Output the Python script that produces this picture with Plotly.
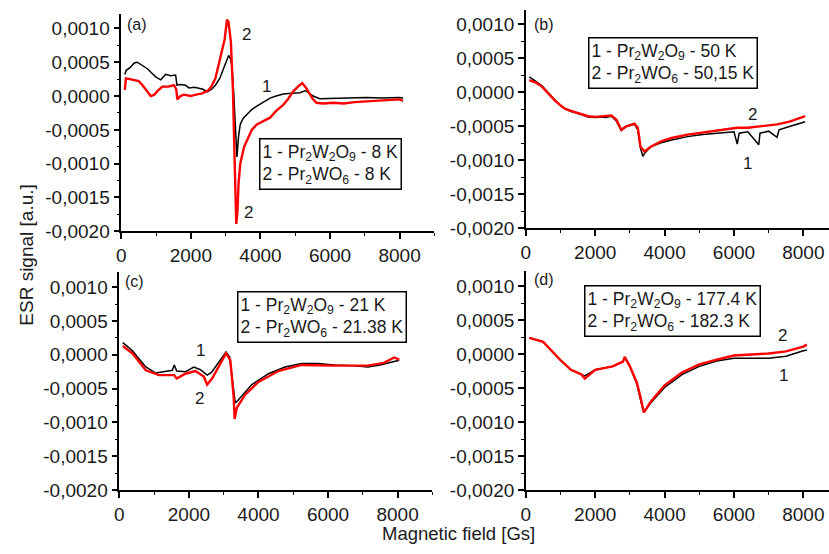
import plotly.graph_objects as go

W, H = 829, 554

# ---------------- data ----------------
a_black_x = [100, 140, 250, 371, 460, 610, 760, 895, 1000, 1133, 1276, 1420, 1562, 1600, 1700, 1848, 1943, 2100, 2229, 2350, 2467, 2600, 2705, 2830, 2943, 3020, 3086, 3140, 3181, 3229, 3280, 3324, 3370, 3419, 3500, 3610, 3750, 3895, 4100, 4276, 4450, 4657, 4900, 5133, 5300, 5514, 5705, 5900, 6181, 6500, 7038, 7500, 7990, 8100]
a_black_y = [0.00032, 0.00038, 0.00042, 0.00049, 0.0005, 0.00045, 0.0004, 0.00033, 0.00028, 0.00024, 0.00032, 0.0003, 0.00031, 0.00016, 0.00017, 0.00016, 0.00012, 0.00013, 0.00012, 0.0001, 0.00006, 0.0001, 0.00016, 0.00026, 0.00041, 0.0005, 0.0006, 0.00055, 0.00045, 0.00007, -0.0005, -0.0009, -0.0006, -0.00042, -0.00033, -0.00027, -0.0002, -0.00015, -0.00008, -0.00003, 0.0, 0.00003, 0.00004, 0.00005, 0.00008, 0.0, -0.00004, -0.00004, -0.00004, -0.00003, -0.00002, -0.00003, -0.00002, -0.00003]
a_red_x = [100, 133, 250, 371, 500, 610, 750, 848, 950, 1050, 1181, 1350, 1514, 1580, 1610, 1700, 1800, 1990, 2150, 2324, 2514, 2600, 2705, 2848, 2971, 3038, 3080, 3150, 3210, 3260, 3305, 3340, 3371, 3420, 3467, 3530, 3610, 3750, 3895, 4050, 4276, 4450, 4657, 4800, 4943, 5100, 5200, 5300, 5371, 5500, 5610, 5800, 6086, 6400, 6700, 7038, 7500, 7990, 8100]
a_red_y = [0.00009, 0.00026, 0.00025, 0.00024, 0.00022, 0.00016, 0.00006, 0.0, 0.00002, 0.00008, 0.00014, 0.00014, 0.00016, 0.0001, -0.00005, 0.0, 0.00002, 0.0, 0.00002, 0.00004, 0.00009, 0.00015, 0.00026, 0.00055, 0.00084, 0.00113, 0.0011, 0.0008, 0.00007, -0.001, -0.00189, -0.0017, -0.00129, -0.001, -0.0009, -0.00075, -0.00066, -0.0005, -0.00042, -0.00038, -0.00032, -0.00022, -0.00013, -0.00004, 0.00007, 0.00015, 0.00019, 0.00013, 0.00007, -0.00004, -0.0001, -0.00011, -0.0001, -0.00011, -0.00009, -0.00008, -0.00007, -0.00005, -0.00007]

b_black_x = [100, 124, 300, 458, 650, 840, 1000, 1127, 1300, 1509, 1650, 1796, 2000, 2178, 2300, 2464, 2607, 2751, 2894, 3000, 3133, 3228, 3305, 3372, 3419, 3600, 3897, 4200, 4661, 5100, 5616, 6000, 6094, 6150, 6400, 6714, 6750, 7000, 7240, 7300, 7600, 8052]
b_black_y = [0.00023, 0.00022, 0.00016, 0.0001, -0.00001, -0.00012, -0.0002, -0.00024, -0.00028, -0.00031, -0.00034, -0.00036, -0.00037, -0.00036, -0.00037, -0.00035, -0.00042, -0.00056, -0.0005, -0.00049, -0.00047, -0.00055, -0.00082, -0.00094, -0.0009, -0.0008, -0.00074, -0.0007, -0.00065, -0.00062, -0.0006, -0.00058, -0.00076, -0.0006, -0.00058, -0.00077, -0.0006, -0.00057, -0.00066, -0.00055, -0.0005, -0.00043]
b_red_x = [100, 300, 458, 650, 840, 1000, 1127, 1300, 1509, 1796, 2000, 2178, 2464, 2607, 2751, 2894, 3133, 3228, 3305, 3419, 3600, 3897, 4200, 4661, 5100, 5616, 6094, 6400, 6714, 7000, 7240, 7600, 8052]
b_red_y = [0.00018, 0.00014, 0.00009, -0.00002, -0.00012, -0.00019, -0.00024, -0.00027, -0.0003, -0.00035, -0.00036, -0.00035, -0.00034, -0.0004, -0.00055, -0.0005, -0.00046, -0.00052, -0.0008, -0.00087, -0.0008, -0.00072, -0.00067, -0.00062, -0.00059, -0.00055, -0.00052, -0.00052, -0.0005, -0.00049, -0.00047, -0.00043, -0.00035]

c_black_x = [100, 381, 600, 762, 1048, 1300, 1524, 1580, 1650, 1905, 2143, 2333, 2524, 2650, 2762, 2952, 3067, 3171, 3257, 3333, 3400, 3524, 3810, 4286, 4762, 5238, 5700, 6190, 6700, 7143, 7500, 7810, 8048]
c_black_y = [0.00018, 0.00006, -0.00008, -0.00018, -0.00027, -0.00025, -0.00023, -0.00015, -0.00024, -0.00025, -0.00018, -0.00022, -0.0003, -0.00026, -0.00018, -0.00003, 0.00004, -0.00003, -0.00037, -0.00071, -0.00068, -0.00061, -0.00044, -0.00028, -0.00018, -0.00013, -0.00013, -0.00015, -0.00016, -0.00018, -0.00015, -0.00011, -0.00008]
c_red_x = [100, 381, 762, 1143, 1571, 1650, 1900, 2190, 2429, 2524, 2667, 2857, 3067, 3190, 3286, 3314, 3381, 3619, 4000, 4571, 5238, 6190, 7143, 7600, 7905, 8048]
c_red_y = [0.00013, 0.00002, -0.00023, -0.0003, -0.0003, -0.00035, -0.00028, -0.00024, -0.00032, -0.00044, -0.00035, -0.00018, 0.00002, -0.00008, -0.00061, -0.00095, -0.00078, -0.00059, -0.0004, -0.00024, -0.00015, -0.00016, -0.00016, -0.00012, -0.00004, -0.00007]

d_x = [100, 500, 1000, 1300, 1600, 1700, 2000, 2500, 2800, 2850, 3000, 3200, 3300, 3400, 3600, 4000, 4500, 5000, 5500, 6000, 7000, 7500, 8000, 8100]
d_black_y = [0.00024, 0.00018, -0.00009, -0.00023, -0.0003, -0.00032, -0.00023, -0.00018, -0.00011, -0.00005, -0.00018, -0.00044, -0.00066, -0.00086, -0.00072, -0.00049, -0.0003, -0.00018, -0.0001, -0.00006, -0.00006, -0.00003, 0.00005, 0.00006]
d_red_y = [0.00024, 0.00018, -0.00009, -0.00023, -0.0003, -0.00036, -0.00023, -0.00018, -0.00011, -0.00004, -0.00018, -0.00042, -0.00062, -0.00086, -0.0007, -0.00046, -0.00027, -0.00015, -0.00008, -0.00002, 0.00001, 0.00004, 0.00011, 0.00014]

y_tickvals = [-0.002, -0.0015, -0.001, -0.0005, 0.0, 0.0005, 0.001]
y_ticktext = ["-0,0020", "-0,0015", "-0,0010", "-0,0005", "0,0000", "0,0005", "0,0010"]
x_tickvals = [0, 2000, 4000, 6000, 8000]
x_ticktext = ["0", "2000", "4000", "6000", "8000"]

legend_texts = [
    "1 - Pr<sub>2</sub>W<sub>2</sub>O<sub>9</sub> - 8 K<br>2 - Pr<sub>2</sub>WO<sub>6</sub> - 8 K",
    "1 - Pr<sub>2</sub>W<sub>2</sub>O<sub>9</sub> - 50 K<br>2 - Pr<sub>2</sub>WO<sub>6</sub> - 50,15 K",
    "1 - Pr<sub>2</sub>W<sub>2</sub>O<sub>9</sub> - 21 K<br>2 - Pr<sub>2</sub>WO<sub>6</sub> - 21.38 K",
    "1 - Pr<sub>2</sub>W<sub>2</sub>O<sub>9</sub> - 177.4 K<br>2 - Pr<sub>2</sub>WO<sub>6</sub> - 182.3 K",
]
panel_letters = ["(a)", "(b)", "(c)", "(d)"]

# ---------------- figure ----------------
FONT = "Liberation Sans, Arial, sans-serif"
fig = go.Figure()

series = [
    (a_black_x, a_black_y, a_red_x, a_red_y),
    (b_black_x, b_black_y, b_red_x, b_red_y),
    (c_black_x, c_black_y, c_red_x, c_red_y),
    (d_x, d_black_y, d_x, d_red_y),
]
for i, (bx, by, rx, ry) in enumerate(series):
    sfx = "" if i == 0 else str(i + 1)
    fig.add_trace(go.Scatter(x=bx, y=by, mode="lines", line=dict(color="black", width=1.5),
                             xaxis="x" + sfx, yaxis="y" + sfx, showlegend=False))
    fig.add_trace(go.Scatter(x=rx, y=ry, mode="lines", line=dict(color="#ff0000", width=2.4),
                             xaxis="x" + sfx, yaxis="y" + sfx, showlegend=False))

def px2x(p):
    return p / W

def px2y(p):
    return 1 - p / H

# pixel geometry of each panel: (x_left, x_right, y_bottom, y_top, xmax)
geo = [
    (117, 432, 236, 13.8, 9000),
    (524, 829, 233, 9.7, 8739),
    (115, 430, 500, 277.8, 9000),
    (524, 829, 500, 276.7, 8739),
]
tickfont = dict(family=FONT, size=19, color="#1a1a1a")
for i, (xl, xr, yb, yt, xmax) in enumerate(geo):
    sfx = "" if i == 0 else str(i + 1)
    xa = dict(domain=[px2x(xl), px2x(xr)], range=[0, xmax], anchor="y" + sfx,
              showline=True, linecolor="black", linewidth=1.5, showgrid=False, zeroline=False,
              ticks="outside", ticklen=6, tickwidth=1.5, tickcolor="black",
              tickmode="array", tickvals=x_tickvals, ticktext=x_ticktext, tickfont=tickfont,
              minor=dict(ticks="outside", ticklen=3, tickwidth=1.2, tickcolor="black",
                         tickmode="linear", tick0=0, dtick=1000, showgrid=False))
    ya = dict(domain=[px2y(yb), px2y(yt)], range=[-0.002, 0.00122], anchor="x" + sfx,
              showline=True, linecolor="black", linewidth=1.5, showgrid=False, zeroline=False,
              ticks="outside", ticklen=6, tickwidth=1.5, tickcolor="black",
              tickmode="array", tickvals=y_tickvals, ticktext=y_ticktext, tickfont=tickfont,
              minor=dict(ticks="outside", ticklen=3, tickwidth=1.2, tickcolor="black",
                         tickmode="linear", tick0=0, dtick=0.00025, showgrid=False))
    fig.layout["xaxis" + sfx] = xa
    fig.layout["yaxis" + sfx] = ya

def text_ann(t, x, y, size, **kw):
    d = dict(text=t, x=px2x(x), y=px2y(y), xref="paper", yref="paper", showarrow=False,
             xanchor="center", yanchor="middle",
             font=dict(family=FONT, size=size, color="#1a1a1a"))
    d.update(kw)
    return d

ann = []
# panel letters
letter_pos = [(133, 25), (542, 25), (130, 287), (542, 285)]
for t, (x, y) in zip(panel_letters, letter_pos):
    ann.append(text_ann(t, x, y, 16))
# legend boxes
box_pos = [(327, 167.5), (672, 64), (318.5, 323.5), (672, 317.5)]
for t, (x, y) in zip(legend_texts, box_pos):
    ann.append(text_ann(t, x, y, 17.5, align="left", bordercolor="black", borderwidth=1.5,
                        borderpad=2, bgcolor="white"))
# curve labels
num_pos = [("2", 243, 35), ("1", 263, 88), ("2", 245, 217),
           ("2", 752, 117), ("1", 747, 167),
           ("1", 197, 358), ("2", 196, 407),
           ("2", 782, 342), ("1", 783, 383)]
for t, x, y in num_pos:
    ann.append(text_ann(t, x, y, 17))
# axis titles
ann.append(text_ann("Magnetic field [Gs]", 456, 544.5, 18.5, borderpad=0))
ann.append(text_ann("ESR signal [a.u.]", 22, 260, 19, textangle=-90))

fig.update_layout(width=W, height=H, margin=dict(l=0, r=0, t=0, b=0),
                  paper_bgcolor="white", plot_bgcolor="white", annotations=ann,
                  showlegend=False)

fig.write_html("out.html")
